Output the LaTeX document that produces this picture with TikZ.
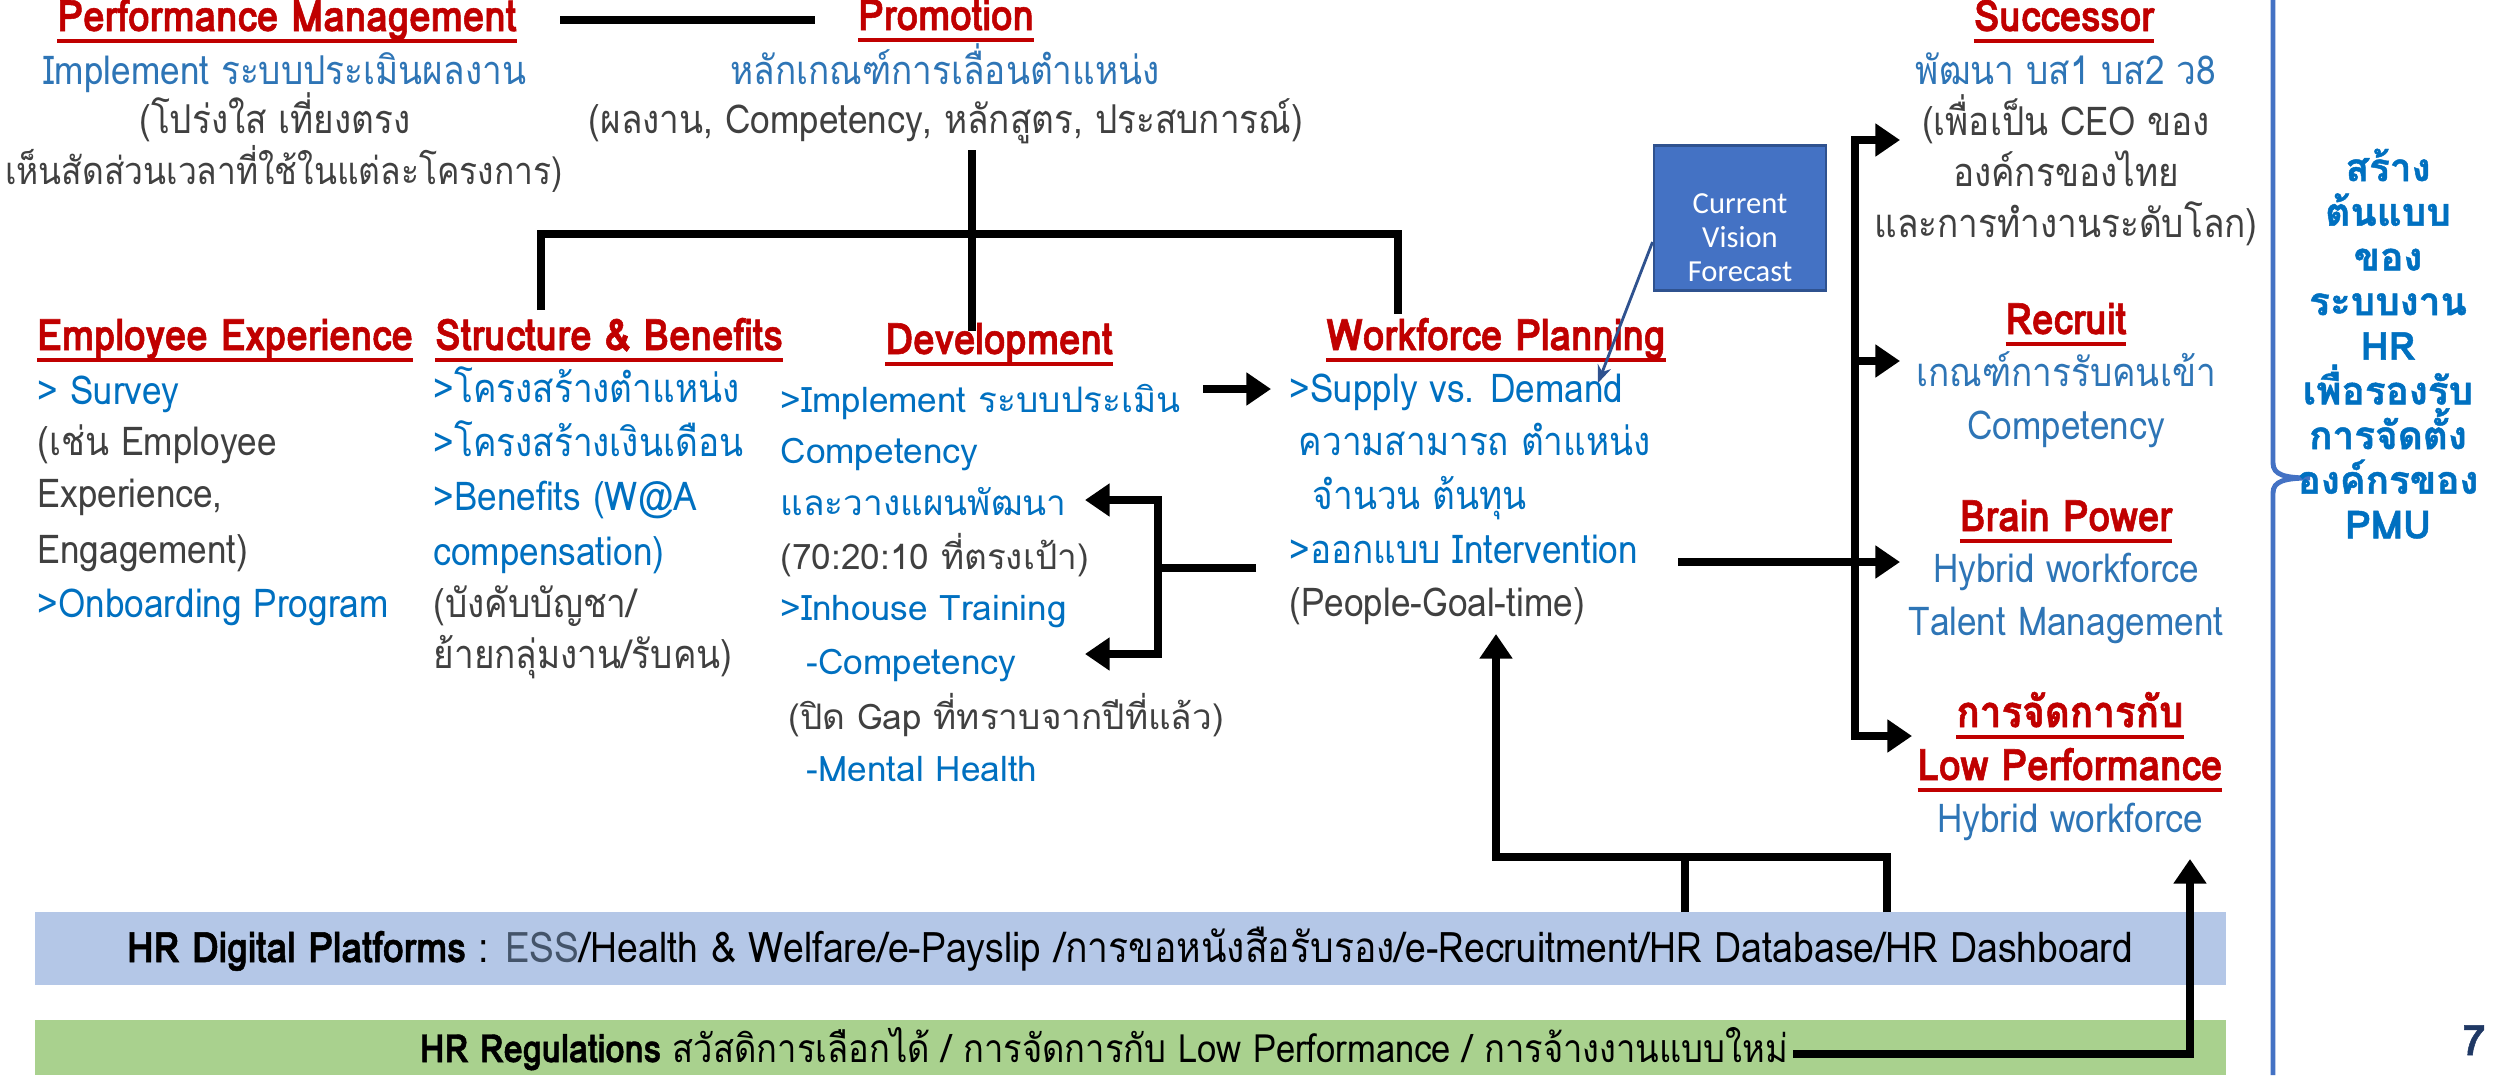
\documentclass[tikz,border=0pt]{standalone}
\usepackage{fontspec}
\setmainfont{Loma}[Script=Thai, FakeStretch=0.885, BoldFeatures={FakeBold=1.2}]
\newfontfamily\thaiwide{Loma}[Script=Thai, BoldFeatures={FakeBold=1.2}]
\newfontfamily\boxfont{Carlito}
\usetikzlibrary{arrows.meta}
\definecolor{titlered}{HTML}{C00000}
\definecolor{tblue}{HTML}{2E75B6}
\definecolor{tblue2}{HTML}{0070C0}
\definecolor{tgray}{HTML}{404040}
\definecolor{boxblue}{HTML}{4472C4}
\definecolor{boxedge}{HTML}{2F528F}
\definecolor{digband}{HTML}{B4C7E7}
\definecolor{regband}{HTML}{A9D18E}
\definecolor{pagenum}{HTML}{1F3864}
\definecolor{slate}{HTML}{44546A}
\newcommand\redul[1]{\setbox0=\hbox{#1}\leavevmode\rlap{\color{titlered}\rule[-0.27em]{\wd0}{0.08em}}\box0}
\begin{document}
\begin{tikzpicture}[x=0.01cm,y=-0.01cm,
  ttl/.style={inner sep=0pt, anchor=mid, text=titlered, font=\bfseries\fontsize{12.4}{14}\selectfont},
  bc/.style={inner sep=0pt, anchor=mid, text=tblue, font=\fontsize{11.3}{13}\selectfont},
  gc/.style={inner sep=0pt, anchor=mid, text=tgray, font=\fontsize{11.3}{13}\selectfont},
  bl/.style={inner sep=0pt, anchor=mid west, text=tblue2, font=\fontsize{11.3}{13}\selectfont},
  gl/.style={inner sep=0pt, anchor=mid west, text=tgray, font=\fontsize{11.3}{13}\selectfont},
  dbl/.style={bl, font=\thaiwide\fontsize{10}{12}\selectfont},
  dgl/.style={gl, font=\thaiwide\fontsize{10}{12}\selectfont},
  thickline/.style={line width=2.2pt, line join=miter},
  thickarrow/.style={line width=2.2pt, line join=miter, -{Triangle[length=7pt,width=9pt]}}
]
\useasboundingbox (0,0) rectangle (2496,1075);

% bands
\fill[digband] (35,912) rectangle (2226,985);
\fill[regband] (35,1020) rectangle (2226,1075);
\node[inner sep=0pt, anchor=mid, font=\fontsize{12}{14}\selectfont] (dig) at (1130,953)
  {\textbf{HR Digital Platforms} : \textcolor{slate}{ESS}/Health \& Welfare/e-Payslip /การขอหนังสือรับรอง/e-Recruitment/HR Database/HR Dashboard};
\node[inner sep=0pt, anchor=mid, font=\fontsize{11.1}{13}\selectfont] (reg) at (1104,1053)
  {\textbf{HR Regulations} สวัสดิการเลือกได้ / การจัดการกับ Low Performance / การจ้างงานแบบใหม่};

% Performance management
\node[ttl] (pmT) at (287,22) {\redul{Performance Management}};
\node[bc] (pm1) at (285,75) {Implement ระบบประเมินผลงาน};
\node[gc] (pm2) at (275,124) {(โปร่งใส เที่ยงตรง};
\node[gc, font=\fontsize{10.8}{13}\selectfont] (pm3) at (284,175) {เห็นสัดส่วนเวลาที่ใช้ในแต่ละโครงการ)};

% Promotion
\node[ttl] (prT) at (946,21) {\redul{Promotion}};
\node[bc] (pr1) at (945,75) {หลักเกณฑ์การเลื่อนตำแหน่ง};
\node[gc] (pr2) at (946,124) {(ผลงาน, Competency, หลักสูตร, ประสบการณ์)};

% Successor
\node[ttl] (suT) at (2064,22) {\redul{Successor}};
\node[bc] (su1) at (2066,75) {พัฒนา บส1 บส2 ว8};
\node[gc] (su2) at (2066,126) {(เพื่อเป็น CEO ของ};
\node[gc] (su3) at (2066,177) {องค์กรของไทย};
\node[gc] (su4) at (2066,228) {และการทำงานระดับโลก)};

% Employee Experience
\node[ttl] (eeT) at (225,341) {\redul{Employee Experience}};
\node[bl] (ee1) at (37,395) {> Survey};
\node[gl] (ee2) at (37,446) {(เช่น Employee};
\node[gl] (ee3) at (37,498) {Experience,};
\node[gl] (ee4) at (37,554) {Engagement)};
\node[bl] (ee5) at (37,608) {>Onboarding Program};

% Structure & Benefits
\node[ttl] (sbT) at (609,341) {\redul{Structure \& Benefits}};
\node[bl] (sb1) at (433,393) {>โครงสร้างตำแหน่ง};
\node[bl] (sb2) at (433,447) {>โครงสร้างเงินเดือน};
\node[bl] (sb3) at (433,501) {>Benefits (W@A};
\node[bl] (sb4) at (433,556) {compensation)};
\node[gl] (sb5) at (433,608) {(บังคับบัญชา/};
\node[gl] (sb6) at (433,659) {ย้ายกลุ่มงาน/รับคน)};

% Development
\node[ttl] (dvT) at (999,345) {\redul{Development}};
\node[dbl] (dv1) at (780,403) {>Implement ระบบประเมิน};
\node[dbl] (dv2) at (780,454) {Competency};
\node[dbl] (dv3) at (780,506) {และวางแผนพัฒนา};
\node[dgl] (dv4) at (780,560) {(70:20:10 ที่ตรงเป้า)};
\node[dbl] (dv5) at (780,611) {>Inhouse Training};
\node[dbl] (dv6) at (806,665) {-Competency};
\node[dgl] (dv7) at (788,720) {(ปิด Gap ที่ทราบจากปีที่แล้ว)};
\node[dbl] (dv8) at (806,772) {-Mental Health};

% Workforce planning
\node[ttl] (wfT) at (1496,341) {\redul{Workforce Planning}};
\node[bl] (wf1) at (1289,393) {>Supply vs. Demand};
\node[bl] (wf2) at (1298,446) {ความสามารถ ตำแหน่ง};
\node[bl] (wf3) at (1312,500) {จำนวน ต้นทุน};
\node[bl] (wf4) at (1289,554) {>ออกแบบ Intervention};
\node[gl] (wf5) at (1289,607) {(People-Goal-time)};

% Right column
\node[ttl] (rcT) at (2066,325) {\redul{Recruit}};
\node[bc] (rc1) at (2066,377) {เกณฑ์การรับคนเข้า};
\node[bc] (rc2) at (2066,430) {Competency};
\node[ttl] (bpT) at (2066,522) {\redul{Brain Power}};
\node[bc] (bp1) at (2066,573) {Hybrid workforce};
\node[bc] (bp2) at (2066,626) {Talent Management};
\node[ttl] (lpT1) at (2070,718) {\redul{การจัดการกับ}};
\node[ttl] (lpT2) at (2070,771) {\redul{Low Performance}};
\node[bc] (lp1) at (2070,823) {Hybrid workforce};

% Vision box
\node[draw=boxedge, fill=boxblue, line width=0.8pt, inner sep=0pt,
  minimum width=1.72cm, minimum height=1.45cm] (cvf) at (1740,218) {};
\node[inner sep=0pt, text=white, align=center, font=\boxfont\fontsize{8.7}{9.7}\selectfont, anchor=center]
  (cvft) at (1740,238) {Current\\Vision\\Forecast};

% right brace and text
\draw[boxblue, line width=1.4pt] (2273,0) -- (2273,463) .. controls (2273,475) and (2285,478) .. (2310,478)
  .. controls (2285,478) and (2273,481) .. (2273,493) -- (2273,1075);
\node[inner sep=0pt, align=center, text=tblue2, font=\thaiwide\bfseries\fontsize{11}{12.7}\selectfont, anchor=north] (goal) at (2388,148)
  {สร้าง\\ต้นแบบ\\ของ\\ระบบงาน\\HR\\เพื่อรองรับ\\การจัดตั้ง\\องค์กรของ\\PMU};
\node[inner sep=0pt, text=pagenum, font=\thaiwide\bfseries\fontsize{12}{14}\selectfont, anchor=mid] (pg) at (2474,1046) {7};

% coordinates
\coordinate (pmL) at (560,20);
\coordinate (prL) at (815,20);
\coordinate (prV1) at (972,150);
\coordinate (prV2) at (972,331);
\coordinate (brL) at (541,310);
\coordinate (brR) at (1398,314);
\coordinate (dvA1) at (1203,389);
\coordinate (dvA2) at (1271,389);
\coordinate (bj) at (1158,568);
\coordinate (bjS) at (1256,568);
\coordinate (bjT) at (1085,500);
\coordinate (bjB) at (1085,654);
\coordinate (busT) at (1855,140);
\coordinate (busB) at (1855,736);
\coordinate (aSuc) at (1900,140);
\coordinate (aRec) at (1900,361);
\coordinate (ivS) at (1678,562);
\coordinate (aBr) at (1900,562);
\coordinate (aLow) at (1912,736);
\coordinate (upT) at (1496,634);
\coordinate (upH) at (1496,857);
\coordinate (upM) at (1685,912);
\coordinate (upR) at (1887,912);
\coordinate (regS) at (1793,1054);
\coordinate (regC) at (2190,1054);
\coordinate (regT) at (2190,859);
\coordinate (cvfA) at (cvf.west |- 0,242);
\coordinate (cvfB) at (1598,383);

\draw[thickline] (pmL) -- (prL);
\draw[thickline] (prV1) -- (prV2);
\draw[thickline] (brL) |- (972,234) -| (brR);
\draw[thickarrow] (dvA1) -- (dvA2);
\draw[thickarrow] (bjS) -- (bj) |- (bjT);
\draw[thickarrow] (bj) |- (bjB);
\draw[thickarrow] (busB) -- (busT) -- (aSuc);
\draw[thickarrow] (1855,400) -- (busB) -- (aLow);
\draw[thickarrow] (busT |- aRec) -- (aRec);
\draw[thickarrow] (ivS) -- (aBr);
\draw[thickarrow] (upR) |- (upH) -- (upT);
\draw[thickline] (upM) -- (upM |- upH);
\draw[thickarrow] (regS) -- (regC) -- (regT);
\draw[boxedge, line width=0.8pt, -{Stealth[length=5pt,width=4pt]}] (cvfA) -- (cvfB);
\end{tikzpicture}
\end{document}
